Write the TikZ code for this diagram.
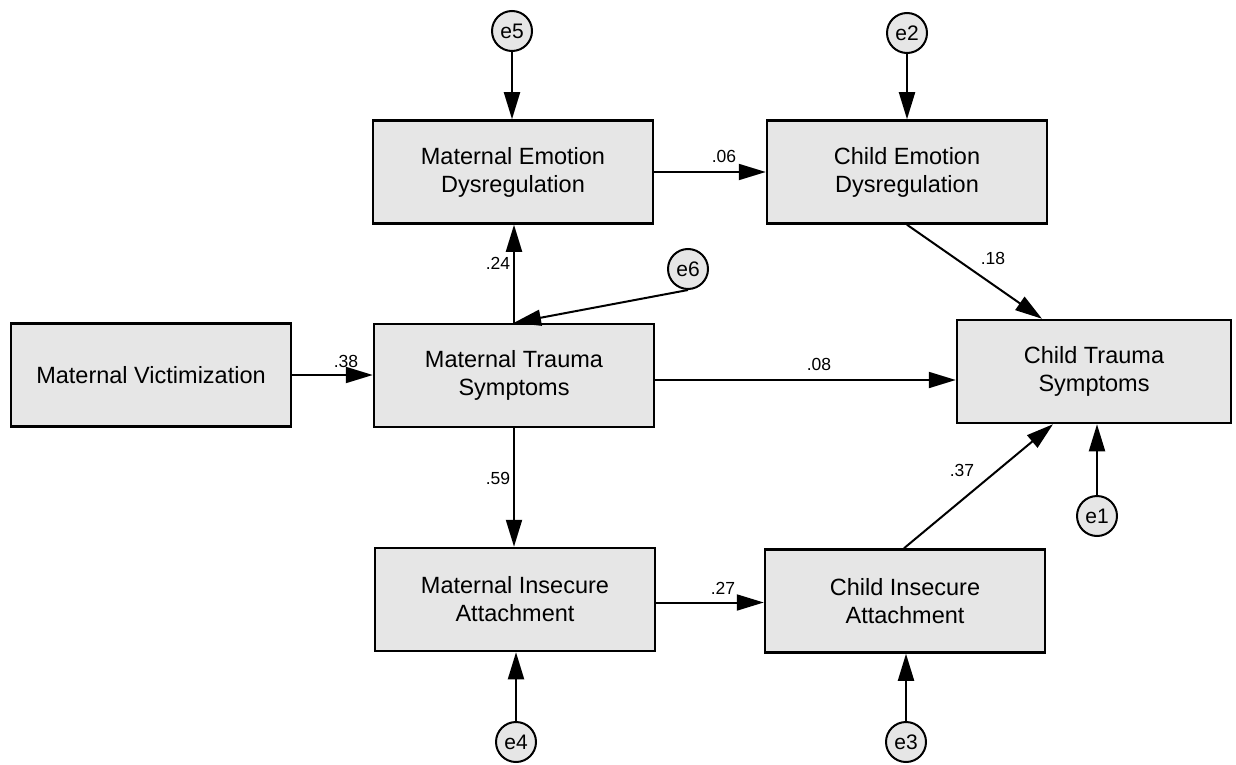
\documentclass[tikz,border=0pt]{standalone}
\usepackage{fontspec}
\setmainfont{Liberation Sans}
\usetikzlibrary{arrows.meta,calc}
\definecolor{boxgray}{RGB}{230,230,230}
\begin{document}
\begin{tikzpicture}[x=1pt,y=-1pt,
  box/.style={draw=black, line width=2.5pt, fill=boxgray, minimum width=280pt, minimum height=103pt, inner sep=0pt, align=center, font=\fontsize{23.5}{28}\selectfont},
  err/.style={circle, draw=black, line width=2pt, fill=boxgray, minimum size=40pt, inner sep=0pt, font=\fontsize{21}{24}\selectfont},
  link/.style={line width=2pt, -{Triangle[length=27pt,width=16pt]}},
  lab/.style={font=\fontsize{17.5}{20}\selectfont, inner sep=0pt}]
\useasboundingbox (0,0) rectangle (1236,765);
% boxes
\node[box] (mv)  at (151,375)   {Maternal Victimization};
\node[box] (mts) at (514,375.5) {Maternal Trauma\\Symptoms};
\node[box] (med) at (513,172)   {Maternal Emotion\\Dysregulation};
\node[box] (ced) at (907,172)   {Child Emotion\\Dysregulation};
\node[box, minimum width=274pt] (cts) at (1094,371.5) {Child Trauma\\Symptoms};
\node[box] (mia) at (515,599.5) {Maternal Insecure\\Attachment};
\node[box] (cia) at (905,601)   {Child Insecure\\Attachment};
% error terms
\node[err] (e5) at (512,31)  {e5};
\node[err] (e2) at (907,33)  {e2};
\node[err] (e6) at (688,269) {e6};
\node[err] (e1) at (1097,516) {e1};
\node[err] (e4) at (516,742) {e4};
\node[err] (e3) at (906,742) {e3};
% connectors
\draw[link] (e5.south) -- (e5.south |- med.north);
\draw[link] (e2.south) -- (e2.south |- ced.north);
\draw[link] (mts.north) -- (mts.north |- med.south);
\draw[link] (e6.south) -- (mts.north);
\draw[link] (med.east) -- (med.east -| ced.west);
\draw[link] (ced.south) -- ([xshift=-52pt]cts.north);
\draw[link] (mv.east) -- (mv.east -| mts.west);
\draw[link] ([yshift=-4.5pt]mts.east) -- ([yshift=-4.5pt]mts.east -| cts.west);
\draw[link] (mts.south) -- (mts.south |- mia.north);
\draw[link] ([yshift=-3pt]mia.east) -- ([yshift=-3pt]mia.east -| cia.west);
\draw[link] ([xshift=-1pt]cia.north) -- ([xshift=-41pt]cts.south);
\draw[link] (e1.north) -- (e1.north |- cts.south);
\draw[link] (e4.north) -- (e4.north |- mia.south);
\draw[link] (e3.north) -- (e3.north |- cia.south);
% labels
\node[lab] (l24) at (498,263) {.24};
\node[lab] (l06) at (724,156) {.06};
\node[lab] (l18) at (993,258) {.18};
\node[lab] (l38) at (346,361) {.38};
\node[lab] (l08) at (819,364) {.08};
\node[lab] (l59) at (498,478) {.59};
\node[lab] (l27) at (723,588) {.27};
\node[lab] (l37) at (962,470) {.37};
\end{tikzpicture}
\end{document}
